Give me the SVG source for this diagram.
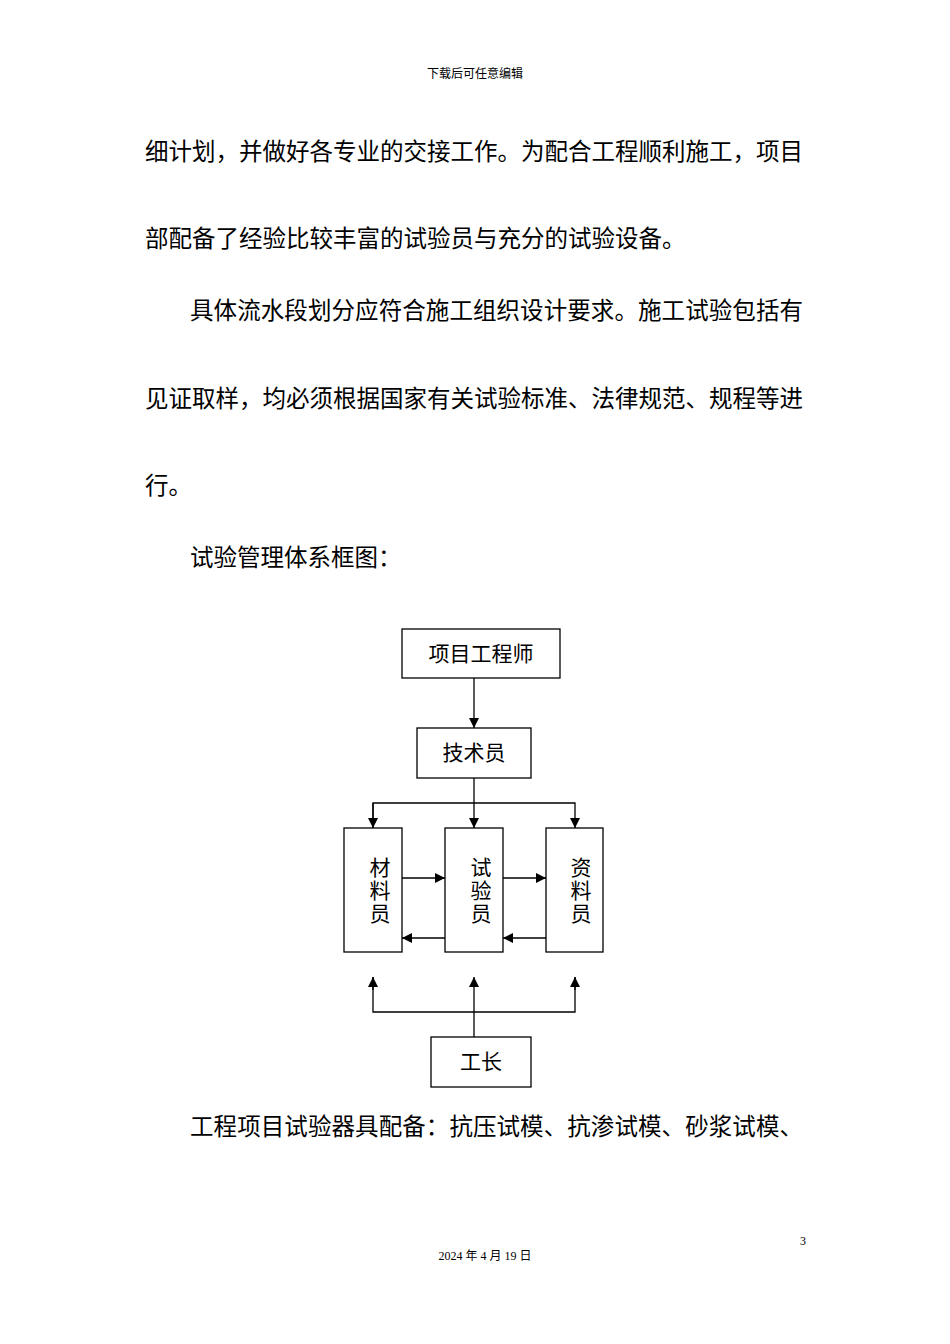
<svg xmlns="http://www.w3.org/2000/svg" width="950" height="1344" viewBox="0 0 950 1344">
<defs>
<marker id="ah" viewBox="0 0 10 10" refX="10" refY="5" markerWidth="10" markerHeight="10" markerUnits="userSpaceOnUse" orient="auto"><path d="M0,0 L10,5 L0,10 z" fill="#000"/></marker>
<style>
.b{font-family:"Lato","Noto Sans CJK SC",sans-serif;font-size:23.5px;fill:#000}
.n{font-family:"Lato","Noto Sans CJK SC",sans-serif;font-size:21px;fill:#000;text-anchor:middle}
.s{font-family:"Liberation Serif","Noto Sans CJK SC",serif;font-size:12px;fill:#000}
rect{fill:#fff;stroke:#000;stroke-width:1.3}
.c line,.c polyline{stroke:#000;stroke-width:1.3;fill:none}
</style>
</defs>
<rect x="0" y="0" width="950" height="1344" style="stroke:none"/>
<text class="s" x="475" y="78" text-anchor="middle">下载后可任意编辑</text>
<text class="b" x="145" y="160" textLength="658">细计划，并做好各专业的交接工作。为配合工程顺利施工，项目</text>
<text class="b" x="145" y="247">部配备了经验比较丰富的试验员与充分的试验设备。</text>
<text class="b" x="190" y="319" textLength="613">具体流水段划分应符合施工组织设计要求。施工试验包括有</text>
<text class="b" x="145" y="407" textLength="658">见证取样，均必须根据国家有关试验标准、法律规范、规程等进</text>
<text class="b" x="145" y="494">行。</text>
<text class="b" x="190" y="566">试验管理体系框图：</text>
<g class="c">
<line x1="474" y1="678" x2="474" y2="728" marker-end="url(#ah)"/>
<line x1="474" y1="778" x2="474" y2="828" marker-end="url(#ah)"/>
<polyline points="373,828 373,803 575,803 575,828" marker-end="url(#ah)"/>
<line x1="373" y1="803" x2="373" y2="828" marker-end="url(#ah)"/>
<line x1="402" y1="878" x2="445" y2="878" marker-end="url(#ah)"/>
<line x1="503" y1="878" x2="546" y2="878" marker-end="url(#ah)"/>
<line x1="445" y1="938" x2="402" y2="938" marker-end="url(#ah)"/>
<line x1="546" y1="938" x2="503" y2="938" marker-end="url(#ah)"/>
<line x1="474" y1="1037" x2="474" y2="977" marker-end="url(#ah)"/>
<polyline points="373,977 373,1012 575,1012 575,977"/>
<line x1="373" y1="990" x2="373" y2="977" marker-end="url(#ah)"/>
<line x1="575" y1="990" x2="575" y2="977" marker-end="url(#ah)"/>
</g>
<g id="n1"><rect x="402" y="629" width="158" height="49"/><text class="n" x="481" y="661">项目工程师</text></g>
<g id="n2"><rect x="417" y="728" width="114" height="50"/><text class="n" x="474" y="760">技术员</text></g>
<g id="n3"><rect x="344" y="828" width="58" height="124"/><text class="n" x="380" y="875">材</text><text class="n" x="380" y="898">料</text><text class="n" x="380" y="921">员</text></g>
<g id="n4"><rect x="445" y="828" width="58" height="124"/><text class="n" x="481" y="875">试</text><text class="n" x="481" y="898">验</text><text class="n" x="481" y="921">员</text></g>
<g id="n5"><rect x="546" y="828" width="57" height="124"/><text class="n" x="581" y="875">资</text><text class="n" x="581" y="898">料</text><text class="n" x="581" y="921">员</text></g>
<g id="n6"><rect x="431" y="1037" width="100" height="50"/><text class="n" x="481" y="1069">工长</text></g>
<text class="b" x="190" y="1135" textLength="613">工程项目试验器具配备：抗压试模、抗渗试模、砂浆试模、</text>
<text class="s" x="803" y="1245" text-anchor="middle">3</text>
<text class="s" x="485" y="1260" text-anchor="middle">2024 年 4 月 19 日</text>
</svg>
